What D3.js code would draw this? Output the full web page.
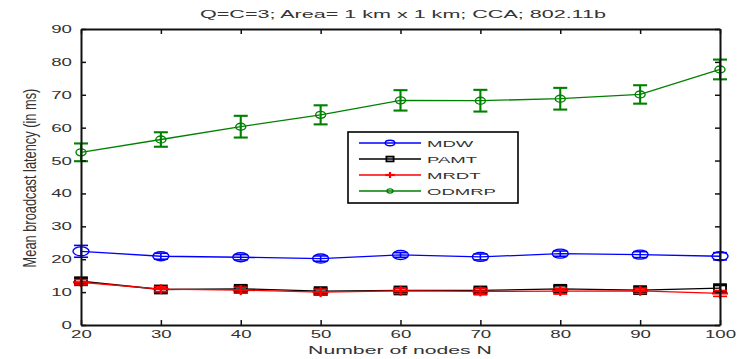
<!DOCTYPE html>
<html>
<head>
<meta charset="utf-8">
<script src="https://cdn.jsdelivr.net/npm/d3@7"></script>
<style>
  html, body { margin: 0; padding: 0; background: #fff; }
  text { font-family: "Liberation Sans", Arial, sans-serif; fill: #333; }
</style>
</head>
<body>
<svg id="chart" width="749" height="359"></svg>
<script>
// Mean broadcast latency vs. number of nodes, four protocols
const nodes = [20, 30, 40, 50, 60, 70, 80, 90, 100];

const mdw   = [22.4, 20.9, 20.6, 20.2, 21.3, 20.7, 21.7, 21.4, 20.9];
const mdwErr = [1.8, 0.9, 0.8, 0.8, 0.7, 0.9, 0.8, 0.9, 1.1];

const pamt  = [13.3, 10.8, 11.0, 10.3, 10.5, 10.5, 11.0, 10.6, 11.2];
const pamtErr = [0.8, 0.8, 0.8, 0.8, 0.7, 0.7, 0.9, 0.8, 0.8];

const mrdt  = [13.0, 10.9, 10.6, 10.0, 10.4, 10.2, 10.3, 10.4, 9.6];
const mrdtErr = [0.8, 0.8, 0.9, 0.9, 0.8, 0.9, 0.9, 0.8, 0.9];

const odmrp = [52.5, 56.4, 60.3, 63.9, 68.3, 68.2, 68.8, 70.1, 77.7];
const odmrpErr = [2.7, 2.2, 3.3, 2.9, 3.1, 3.3, 3.3, 2.8, 3.0];

const xTicks = [20, 30, 40, 50, 60, 70, 80, 90, 100];
const yTicks = [0, 10, 20, 30, 40, 50, 60, 70, 80, 90];

const titleText = "Q=C=3; Area= 1 km x 1 km; CCA; 802.11b";
const xLabel = "Number of nodes N";
const yLabel = "Mean broadcast latency (in ms)";

const series = [
  { name: "MDW",   values: mdw,   err: mdwErr,   color: "#0000ff", marker: "circle",      ebw: 1.6 },
  { name: "PAMT",  values: pamt,  err: pamtErr,  color: "#000000", marker: "square",      ebw: 1.6 },
  { name: "MRDT",  values: mrdt,  err: mrdtErr,  color: "#ff0000", marker: "plus",        ebw: 1.6 },
  { name: "ODMRP", values: odmrp, err: odmrpErr, color: "#008000", marker: "smallcircle", ebw: 2.1 }
];

const svg = d3.select("#chart");
const margin = { left: 81, right: 29, top: 29, bottom: 34 };
const W = 749, H = 359;

const x = d3.scaleLinear().domain([20, 100]).range([margin.left, W - margin.right]);
const y = d3.scaleLinear().domain([0, 90]).range([H - margin.bottom, margin.top]);

// text is drawn wide: glyphs stretched horizontally
const stretch = 1.7;

function drawMarker(g, type, cx, cy, color, sc) {
  if (type === "circle" || type === "smallcircle") {
    const r = type === "circle" ? [8, 4.5] : [5, 3.5];
    g.append("ellipse").attr("cx", cx).attr("cy", cy)
      .attr("rx", r[0] * sc).attr("ry", r[1] * sc)
      .attr("fill", "none").attr("stroke", color).attr("stroke-width", 1.4);
  } else if (type === "square") {
    g.append("rect").attr("x", cx - 6 * sc).attr("y", cy - 4 * sc)
      .attr("width", 12 * sc).attr("height", 8 * sc)
      .attr("fill", "none").attr("stroke", color).attr("stroke-width", 1.8);
  } else if (type === "plus") {
    g.append("line").attr("x1", cx - 8 * sc).attr("x2", cx + 8 * sc)
      .attr("y1", cy).attr("y2", cy).attr("stroke", color).attr("stroke-width", 2.2);
    g.append("line").attr("x1", cx).attr("x2", cx)
      .attr("y1", cy - 5 * sc).attr("y2", cy + 5 * sc).attr("stroke", color).attr("stroke-width", 2.2);
  }
}

const plot = svg.append("g");
const line = d3.line().x((d, i) => x(nodes[i])).y(d => y(d));
const capW = 7;

series.forEach(s => {
  const g = plot.append("g");
  g.append("path")
    .datum(s.values)
    .attr("d", line)
    .attr("fill", "none")
    .attr("stroke", s.color)
    .attr("stroke-width", 1.3);

  const eb = g.selectAll(".eb").data(s.values).enter().append("g")
    .attr("stroke", s.color).attr("stroke-width", s.ebw);
  eb.append("line")
    .attr("x1", (d, i) => x(nodes[i])).attr("x2", (d, i) => x(nodes[i]))
    .attr("y1", (d, i) => y(d - s.err[i])).attr("y2", (d, i) => y(d + s.err[i]));
  eb.append("line")
    .attr("x1", (d, i) => x(nodes[i]) - capW).attr("x2", (d, i) => x(nodes[i]) + capW)
    .attr("y1", (d, i) => y(d + s.err[i])).attr("y2", (d, i) => y(d + s.err[i]));
  eb.append("line")
    .attr("x1", (d, i) => x(nodes[i]) - capW).attr("x2", (d, i) => x(nodes[i]) + capW)
    .attr("y1", (d, i) => y(d - s.err[i])).attr("y2", (d, i) => y(d - s.err[i]));

  s.values.forEach((d, i) => drawMarker(g, s.marker, x(nodes[i]), y(d), s.color, 1));
});

// axes box with inward ticks on all sides
const tickLen = 5;
const axisColor = "#111";
const gx = svg.append("g").attr("transform", `translate(0,${y(0)})`)
  .call(d3.axisBottom(x).tickValues(xTicks).tickSize(-tickLen).tickPadding(5).tickSizeOuter(0));
const gxTop = svg.append("g").attr("transform", `translate(0,${y(90)})`)
  .call(d3.axisTop(x).tickValues(xTicks).tickSize(-tickLen).tickFormat("").tickSizeOuter(0));
const gy = svg.append("g").attr("transform", `translate(${x(20)},0)`)
  .call(d3.axisLeft(y).tickValues(yTicks).tickSize(-tickLen).tickSizeOuter(0));
const gyRight = svg.append("g").attr("transform", `translate(${x(100)},0)`)
  .call(d3.axisRight(y).tickValues(yTicks).tickSize(-tickLen).tickFormat("").tickSizeOuter(0));

[gx, gxTop, gy, gyRight].forEach(a => {
  a.select(".domain").attr("stroke", axisColor).attr("stroke-width", 2);
  a.selectAll(".tick line").attr("stroke", axisColor).attr("stroke-width", 1.5);
  a.selectAll("text").attr("font-size", 11).attr("fill", "#444")
    .attr("font-family", "Liberation Sans, Arial, sans-serif");
});
gx.selectAll(".tick text").attr("transform", `scale(${stretch},1)`);
gy.selectAll(".tick text")
  .attr("x", -9 / stretch)
  .attr("transform", `scale(${stretch},1)`);

// horizontally stretched label fitted to a given width
function wideText(parent, cx, cy, str, size, width) {
  const g = parent.append("g").attr("transform", `translate(${cx},${cy})`);
  const t = g.append("text").attr("text-anchor", "middle").attr("font-size", size).text(str);
  const len = t.node().getComputedTextLength();
  t.attr("transform", `scale(${width / len},1)`);
  return g;
}

wideText(svg, 403, 18, titleText, 10.5, 406);
wideText(svg, 400, 354, xLabel, 11.5, 184);

// rotated y label: length along the axis, glyphs thickened across it
{
  const g = svg.append("g").attr("transform", "translate(29,178) rotate(-90)");
  const t = g.append("text").attr("text-anchor", "middle").attr("font-size", 11).text(yLabel);
  const len = t.node().getComputedTextLength();
  t.attr("transform", `scale(${179 / len},${stretch}) translate(0,4)`);
}

// legend
const lg = svg.append("g").attr("transform", "translate(348,132)");
lg.append("rect").attr("width", 170).attr("height", 71)
  .attr("fill", "#fff").attr("stroke", "#000").attr("stroke-width", 1.6);
series.forEach((s, i) => {
  const ly = 11 + i * 16;
  lg.append("line").attr("x1", 11).attr("x2", 73).attr("y1", ly).attr("y2", ly)
    .attr("stroke", s.color).attr("stroke-width", 1.3);
  drawMarker(lg, s.marker, 42, ly, s.color, 0.6);
  const tg = lg.append("g").attr("transform", `translate(79,${ly + 3.5})`);
  tg.append("text").attr("font-size", 9.5).attr("fill", "#555")
    .attr("transform", "scale(1.95,1)").text(s.name);
});
</script>
</body>
</html>
